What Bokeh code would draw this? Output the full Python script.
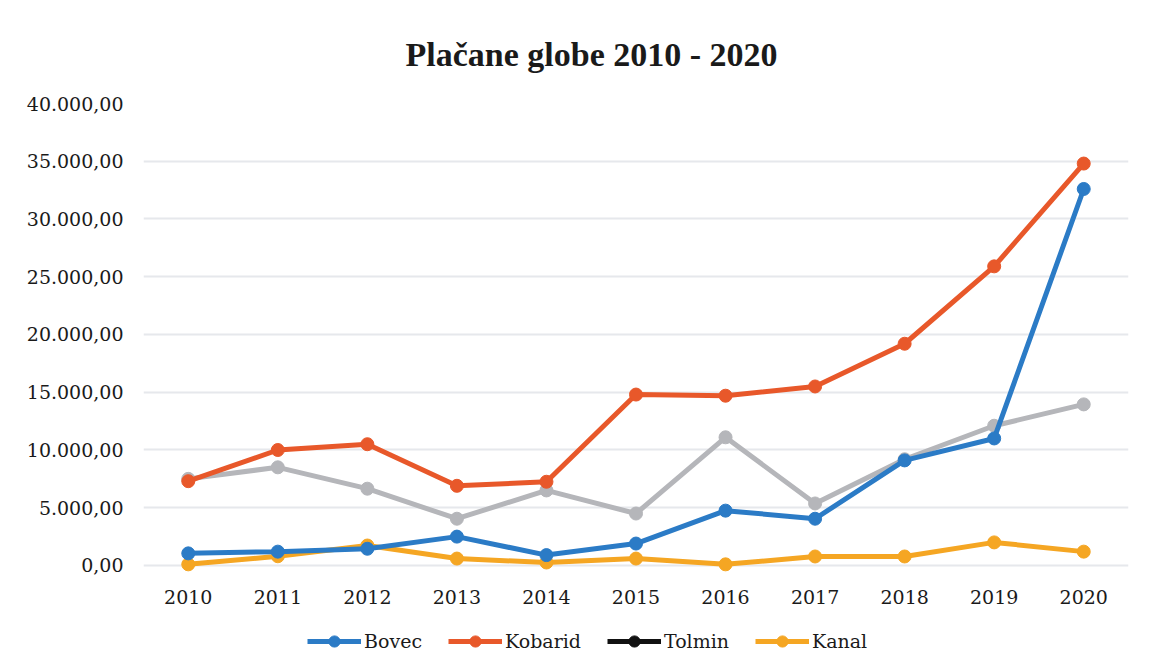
from bokeh.plotting import figure
from bokeh.models import Range1d, FixedTicker, Legend, LegendItem, Title
from bokeh.embed import file_html
from bokeh.resources import INLINE

years = [2010, 2011, 2012, 2013, 2014, 2015, 2016, 2017, 2018, 2019, 2020]
bovec = [1050, 1200, 1450, 2500, 900, 1900, 4750, 4050, 9100, 11000, 32600]
kobarid = [7300, 10000, 10500, 6900, 7250, 14800, 14700, 15500, 19200, 25900, 34800]
tolmin = [7500, 8500, 6650, 4050, 6500, 4500, 11100, 5370, 9200, 12100, 13950]
kanal = [100, 800, 1730, 600, 260, 600, 100, 780, 780, 2000, 1200]
y_ticks = [0, 5000, 10000, 15000, 20000, 25000, 30000, 35000, 40000]
y_labels = {t: f"{t:,.2f}".replace(",", "X").replace(".", ",").replace("X", ".") for t in y_ticks}

FONT = "DejaVu Serif"
TFONT = "Liberation Serif"

# frame spans canvas y 103..656; value 0 sits at canvas y 565 (room below for labels + legend)
p = figure(width=1134, height=656, output_backend="svg", toolbar_location=None,
           x_range=Range1d(2009.5, 2020.5), y_range=Range1d(-7879, 40000),
           min_border_left=143, min_border_right=6, min_border_top=103, min_border_bottom=0)
p.background_fill_color = "white"
p.border_fill_color = "white"
p.outline_line_color = None

t = Title(text="Plačane globe 2010 - 2020", align="left", text_font=TFONT,
          text_font_size="34px", text_font_style="bold", text_color="#1a1a1a",
          standoff=62, offset=262)
p.add_layout(t, "above")

p.xaxis.ticker = FixedTicker(ticks=years)
p.xaxis.fixed_location = 0
p.yaxis.ticker = FixedTicker(ticks=y_ticks)
p.yaxis.major_label_overrides = y_labels
for ax in (p.xaxis, p.yaxis):
    ax.axis_line_color = None
    ax.major_tick_line_color = None
    ax.minor_tick_line_color = None
    ax.major_label_text_font = FONT
    ax.major_label_text_font_size = "19px"
    ax.major_label_text_color = "#1a1a1a"
p.yaxis.major_label_standoff = 14
p.xaxis.major_label_standoff = 19
p.xgrid.grid_line_color = None
p.ygrid.grid_line_color = "#e6e8ec"
p.ygrid.grid_line_width = 2

series = [("Bovec", bovec, "#2b7bc6"), ("Kobarid", kobarid, "#e8582a"),
          ("Tolmin", tolmin, "#b5b6ba"), ("Kanal", kanal, "#f5a623")]
draw_order = [series[2], series[3], series[0], series[1]]
rend = {}
for name, vals, col in draw_order:
    l = p.line(years, vals, line_color=col, line_width=5)
    s = p.scatter(years, vals, size=13, fill_color=col, line_color=col)
    rend[name] = [l, s]

# Legend swatch for Tolmin is shown black in the original
nan = [float("nan")]
lk = p.line(nan, nan, line_color="#111111", line_width=5)
sk = p.scatter(nan, nan, size=13, fill_color="#111111", line_color="#111111")

items = [LegendItem(label="Bovec", renderers=rend["Bovec"]),
         LegendItem(label="Kobarid", renderers=rend["Kobarid"]),
         LegendItem(label="Tolmin", renderers=[lk, sk]),
         LegendItem(label="Kanal", renderers=rend["Kanal"])]
legend = Legend(items=items, orientation="horizontal", location=(164, 1),
                label_text_font=FONT, label_text_font_size="19px",
                label_text_color="#1a1a1a", glyph_width=54, glyph_height=28,
                label_standoff=3, spacing=26, border_line_color=None,
                background_fill_alpha=0, margin=0, padding=0)
p.add_layout(legend, "center")

open("out.html", "w").write(file_html(p, INLINE))
